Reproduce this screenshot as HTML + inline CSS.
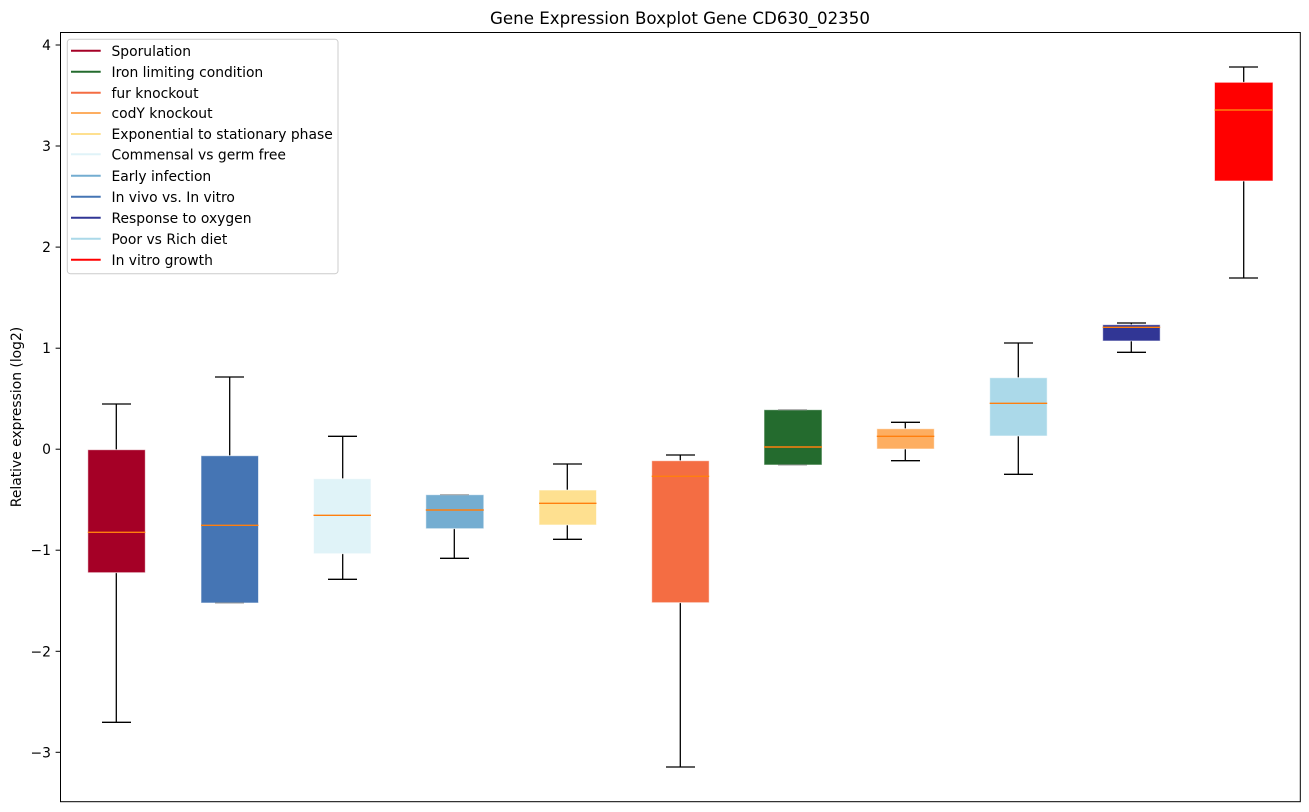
<!DOCTYPE html>
<html><head><meta charset="utf-8"><style>
html,body{margin:0;padding:0;background:#fff;}
svg{display:block;}
text{font-family:"DejaVu Sans","Liberation Sans",sans-serif;fill:#000;}
</style></head><body>
<svg width="1309" height="812" viewBox="0 0 1309 812" xmlns="http://www.w3.org/2000/svg">
<rect x="0" y="0" width="1309" height="812" fill="#fff"/>
<text x="680" y="24" font-size="16.67" text-anchor="middle">Gene Expression Boxplot Gene CD630_02350</text>

<g stroke="#000" stroke-width="1.3" fill="none">
<!-- whiskers -->
<line x1="116.3" y1="404" x2="116.3" y2="449.7"/><line x1="116.3" y1="572.7" x2="116.3" y2="722.3"/>
<line x1="102" y1="404" x2="131" y2="404"/><line x1="102" y1="722.3" x2="131" y2="722.3"/>
<line x1="229.7" y1="377" x2="229.7" y2="455.7"/>
<line x1="215" y1="377" x2="244" y2="377"/>
<line x1="342.7" y1="436.3" x2="342.7" y2="478.7"/><line x1="342.7" y1="553.7" x2="342.7" y2="579.3"/>
<line x1="328" y1="436.3" x2="357" y2="436.3"/><line x1="328" y1="579.3" x2="357" y2="579.3"/>
<line x1="454.3" y1="528.7" x2="454.3" y2="558.3"/>
<line x1="440" y1="558.3" x2="469" y2="558.3"/>
<line x1="567.3" y1="464" x2="567.3" y2="490"/><line x1="567.3" y1="525" x2="567.3" y2="539.3"/>
<line x1="553" y1="464" x2="582" y2="464"/><line x1="553" y1="539.3" x2="582" y2="539.3"/>
<line x1="680.3" y1="455" x2="680.3" y2="460.7"/><line x1="680.3" y1="602.7" x2="680.3" y2="767"/>
<line x1="666" y1="455" x2="695" y2="455"/><line x1="666" y1="767" x2="695" y2="767"/>
<line x1="905.3" y1="422.3" x2="905.3" y2="428.7"/><line x1="905.3" y1="449" x2="905.3" y2="460.7"/>
<line x1="891" y1="422.3" x2="920" y2="422.3"/><line x1="891" y1="460.7" x2="920" y2="460.7"/>
<line x1="1018.3" y1="343" x2="1018.3" y2="377.7"/><line x1="1018.3" y1="436" x2="1018.3" y2="474.3"/>
<line x1="1004" y1="343" x2="1033" y2="343"/><line x1="1004" y1="474.3" x2="1033" y2="474.3"/>
<line x1="1131.3" y1="323" x2="1131.3" y2="324.7"/><line x1="1131.3" y1="341" x2="1131.3" y2="352.3"/>
<line x1="1117" y1="323" x2="1146" y2="323"/><line x1="1117" y1="352.3" x2="1146" y2="352.3"/>
<line x1="1243.7" y1="67" x2="1243.7" y2="82.3"/><line x1="1243.7" y1="181" x2="1243.7" y2="278"/>
<line x1="1229" y1="67" x2="1258" y2="67"/><line x1="1229" y1="278" x2="1258" y2="278"/>
</g>

<g stroke="#ffffff" stroke-opacity="0.6" stroke-width="1">
<rect x="87.8" y="449.7" width="57.5" height="123" fill="#a50026"/>
<rect x="201" y="455.7" width="57.5" height="147.3" fill="#4575b4"/>
<rect x="313.5" y="478.7" width="57.5" height="75" fill="#e0f3f8"/>
<rect x="425.8" y="494.7" width="58" height="34" fill="#74add1"/>
<rect x="539" y="490" width="57.5" height="35" fill="#fee090"/>
<rect x="651.7" y="460.7" width="57.5" height="142" fill="#f46d43"/>
<rect x="764" y="409.7" width="58" height="55.3" fill="#246b2e"/>
<rect x="876.8" y="428.7" width="57.5" height="20.3" fill="#fdae61"/>
<rect x="989.7" y="377.7" width="57.5" height="58.3" fill="#abd9e9"/>
<rect x="1102.7" y="324.7" width="57.5" height="16.3" fill="#313695"/>
<rect x="1214.5" y="82.3" width="58.5" height="98.7" fill="#ff0000"/>
</g>

<g stroke="#999" stroke-width="1">
<line x1="215" y1="603" x2="244" y2="603"/>
<line x1="440" y1="494.7" x2="469" y2="494.7"/>
<line x1="778" y1="409.7" x2="807" y2="409.7"/>
<line x1="778" y1="465" x2="807" y2="465"/>
</g>

<g stroke="#ff7f0e" stroke-width="1.4">
<line x1="87.8" y1="532.3" x2="145.3" y2="532.3"/>
<line x1="201" y1="525.3" x2="258.5" y2="525.3"/>
<line x1="313.5" y1="515.3" x2="371" y2="515.3"/>
<line x1="425.8" y1="510" x2="483.8" y2="510"/>
<line x1="539" y1="503.3" x2="596.5" y2="503.3"/>
<line x1="651.7" y1="476.3" x2="709.2" y2="476.3"/>
<line x1="764" y1="447" x2="822" y2="447"/>
<line x1="876.8" y1="436.3" x2="934.3" y2="436.3"/>
<line x1="989.7" y1="403.3" x2="1047.2" y2="403.3"/>
<line x1="1102.7" y1="327.3" x2="1160.2" y2="327.3"/>
<line x1="1214.5" y1="110" x2="1273" y2="110"/>
</g>

<!-- axes -->
<rect x="60.5" y="32.5" width="1239.8" height="769.2" fill="none" stroke="#000" stroke-width="1"/>
<g stroke="#000" stroke-width="1">
<line x1="55.6" y1="45" x2="60.5" y2="45"/>
<line x1="55.6" y1="146" x2="60.5" y2="146"/>
<line x1="55.6" y1="247.1" x2="60.5" y2="247.1"/>
<line x1="55.6" y1="348.2" x2="60.5" y2="348.2"/>
<line x1="55.6" y1="449.2" x2="60.5" y2="449.2"/>
<line x1="55.6" y1="550.2" x2="60.5" y2="550.2"/>
<line x1="55.6" y1="651.3" x2="60.5" y2="651.3"/>
<line x1="55.6" y1="752.3" x2="60.5" y2="752.3"/>
</g>
<g font-size="13.89" text-anchor="end">
<text x="51" y="50">4</text>
<text x="51" y="151">3</text>
<text x="51" y="252.1">2</text>
<text x="51" y="353.2">1</text>
<text x="51" y="454.2">0</text>
<text x="51" y="555.2">−1</text>
<text x="51" y="656.3">−2</text>
<text x="51" y="757.3">−3</text>
</g>
<text transform="translate(21,417) rotate(-90)" font-size="13.89" text-anchor="middle">Relative expression (log2)</text>

<!-- legend -->
<rect x="67.3" y="39.3" width="270.7" height="234.4" rx="3" ry="3" fill="#fff" fill-opacity="0.8" stroke="#cccccc" stroke-width="1"/>
<g stroke-width="2">
<line x1="71" y1="50.7" x2="100.7" y2="50.7" stroke="#a50026"/>
<line x1="71" y1="71.7" x2="100.7" y2="71.7" stroke="#246b2e"/>
<line x1="71" y1="92.7" x2="100.7" y2="92.7" stroke="#f46d43"/>
<line x1="71" y1="113" x2="100.7" y2="113" stroke="#fdae61"/>
<line x1="71" y1="134" x2="100.7" y2="134" stroke="#fee090"/>
<line x1="71" y1="154.3" x2="100.7" y2="154.3" stroke="#e0f3f8"/>
<line x1="71" y1="175.7" x2="100.7" y2="175.7" stroke="#74add1"/>
<line x1="71" y1="196.7" x2="100.7" y2="196.7" stroke="#4575b4"/>
<line x1="71" y1="217.7" x2="100.7" y2="217.7" stroke="#313695"/>
<line x1="71" y1="238.7" x2="100.7" y2="238.7" stroke="#abd9e9"/>
<line x1="71" y1="259.7" x2="100.7" y2="259.7" stroke="#ff0000"/>
</g>
<g font-size="13.89">
<text x="111.5" y="55.8">Sporulation</text>
<text x="111.5" y="76.8">Iron limiting condition</text>
<text x="111.5" y="97.8">fur knockout</text>
<text x="111.5" y="118.1">codY knockout</text>
<text x="111.5" y="139.1">Exponential to stationary phase</text>
<text x="111.5" y="159.4">Commensal vs germ free</text>
<text x="111.5" y="180.8">Early infection</text>
<text x="111.5" y="201.8">In vivo vs. In vitro</text>
<text x="111.5" y="222.8">Response to oxygen</text>
<text x="111.5" y="243.8">Poor vs Rich diet</text>
<text x="111.5" y="264.8">In vitro growth</text>
</g>
</svg>
</body></html>
